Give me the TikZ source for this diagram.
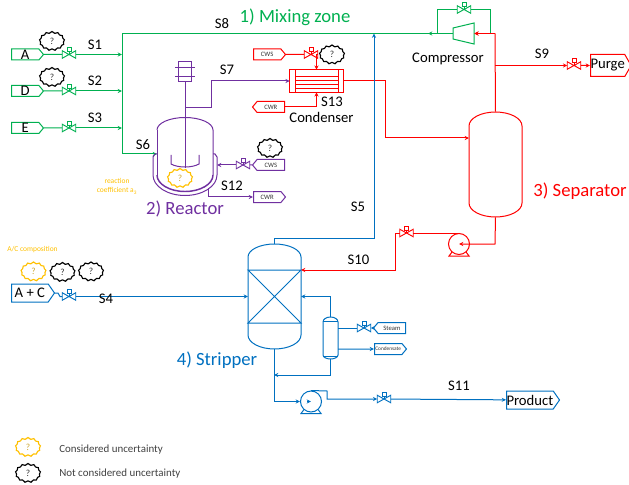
\documentclass[tikz,border=0pt]{standalone}
\usepackage{fontspec}
\setmainfont{Carlito}
\usetikzlibrary{shapes.symbols,arrows.meta,calc}
\def\px{.75pt}
\definecolor{cgreen}{HTML}{00B050}
\definecolor{cpurple}{HTML}{7030A0}
\definecolor{cred}{HTML}{FF0000}
\definecolor{cblue}{HTML}{0070C0}
\definecolor{cyel}{HTML}{FFC000}
\tikzset{
  lbl/.style={font=\fontsize{11pt}{12pt}\selectfont,text=black,inner sep=0pt},
  zone/.style={font=\fontsize{14pt}{15pt}\selectfont,inner sep=0pt},
  tiny label/.style={font=\fontsize{5.6pt}{6.8pt}\selectfont,text=cyel,inner sep=0pt,align=center},
  legendtxt/.style={font=\fontsize{8.2pt}{9pt}\selectfont,text=black!75,inner sep=0pt,anchor=west},
  puff/.style={cloud,cloud puffs=13,cloud puff arc=135,cloud ignores aspect,draw=#1,line width=.85pt,inner sep=0pt,
    minimum width=25*\px,minimum height=19*\px,font=\fontsize{7pt}{8pt}\selectfont,text=#1!60!gray},
  puff/.default=black,
  tag/.style={signal,signal from=nowhere,signal pointer angle=100,draw=#1,line width=.75pt,inner sep=0pt,
    minimum height=11*\px,minimum width=32*\px,text=black!80,font=\fontsize{5pt}{5.4pt}\selectfont},
  tagR/.style={tag=#1,signal to=east,anchor=west},
  tagL/.style={tag=#1,signal to=west,anchor=east},
  bigtag/.style={font=\fontsize{11pt}{12pt}\selectfont,text=black},
  flow/.style={line width=.75pt,-{Stealth[length=3.2pt,width=3pt]}},
  plain/.style={line width=.75pt},
  valve/.style={inner sep=0pt,minimum width=13*\px,minimum height=7*\px},
  vessel/.style={inner sep=0pt},
  pumpc/.style={circle,draw=#1,line width=.75pt,inner sep=0pt,minimum size=21*\px},
}
% name, x, y, colour
\newcommand{\valvesym}[4]{%
  \node[valve] (#1) at (#2,#3) {};
  \draw[#4,line width=.7pt] (#1.north west) -- (#1.south east) -- (#1.north east) -- (#1.south west) -- cycle;
  \draw[#4,line width=.7pt] (#1.center) -- ++(0,-3) ++(-2,0) rectangle ++(4,-4);
}
% name, x, y, colour
\newcommand{\pumpsym}[4]{%
  \node[pumpc=#4] (#1) at (#2,#3) {};
  \draw[#4,line width=.75pt] ($(#1.center)+(-7,8)$) -- ($(#1.center)+(-10,12)$) -- ($(#1.center)+(10,12)$) -- ($(#1.center)+(7,8)$);
}
\begin{document}
\begin{tikzpicture}[x=.75pt,y=-.75pt]
\useasboundingbox (0,0) rectangle (629,485);

% ---------- red section
\node[tagR=cred] (cwsr) at (253,54.5) {CWS};
\node[tagL=cred] (cwrr) at (285,107) {CWR};
\valvesym{vcws}{311}{54.5}{cred}
\node[vessel,minimum width=53*\px,minimum height=22*\px] (cond) at (316.5,81) {};
\draw[cred,line width=.75pt] (cond.north west) rectangle (cond.south east);
\draw[cred,line width=.75pt] (295,70) -- (295,92) (338,70) -- (338,92);
\draw[cred,line width=.5pt] (295,76) -- (338,76) (295,80) -- (338,80) (295,84) -- (338,84) (295,88) -- (338,88);
\draw[cred,plain] (cwsr) -- (vcws);
\draw[cred,flow] (vcws.east) -| (cond.north);
\draw[cred,flow] (cwrr.east) -| (cond.south);
\node[vessel,minimum width=53*\px,minimum height=105*\px] (sep) at (495.5,164.5) {};
\draw[cred,line width=.75pt] (469,126) arc[start angle=180,end angle=0,x radius=26.5*\px,y radius=14*\px] -- (522,203) arc[start angle=0,end angle=-180,x radius=26.5*\px,y radius=14*\px] -- cycle;
\coordinate (c1) at (385,81);
\coordinate (c2) at (469,138);
\draw[cred,flow] (cond.east) -- (c1) |- (c2);
\coordinate (top) at (495,33.5);
\coordinate (s9j) at (495,65.5);
\node[tagR=cred,bigtag,minimum height=22*\px,minimum width=39*\px,signal pointer angle=120] (purge) at (590,65.5) {Purge};
\valvesym{v9}{574}{65.5}{cred}
\draw[cred,plain] (sep.north) -- (top);
\draw[cred,flow] (s9j) -- (v9);
\draw[cred,flow] (v9) -- (purge);
\pumpsym{p1}{459}{244}{cred}
\coordinate (c3) at (495,244);
\draw[cred,flow] (sep.south) -- (c3) -- (p1.center);
\valvesym{v10}{406.5}{233}{cred}
\draw[cred,plain] (p1.north) -- (v10);

% ---------- green section
\node[tagR=cgreen,bigtag] (A) at (11,54.5) {A};
\node[tagR=cgreen,bigtag] (D) at (11,91) {D};
\node[tagR=cgreen,bigtag] (E) at (11,128) {E};
\valvesym{va}{69}{54.5}{cgreen}
\valvesym{vd}{69}{91}{cgreen}
\valvesym{ve}{69}{128}{cgreen}
\coordinate (j1) at (122,54.5);
\coordinate (j2) at (122,91);
\coordinate (j3) at (122,128);
\coordinate (s8c) at (122,33.5);
\coordinate (s6c) at (122,154);
\coordinate (s6e) at (157,154);
\draw[cgreen,plain] (A) -- (va);
\draw[cgreen,plain] (D) -- (vd);
\draw[cgreen,plain] (E) -- (ve);
\draw[cgreen,flow] (va) -- (j1);
\draw[cgreen,flow] (vd) -- (j2);
\draw[cgreen,flow] (ve) -- (j3);
\draw[cgreen,flow] (s8c) |- (s6e);
\node[vessel,minimum width=21*\px,minimum height=21*\px] (comp) at (463.5,33.5) {};
\draw[cgreen,line width=.75pt] (453,28) -- (474,23) -- (474,44) -- (453,39) -- cycle;
\coordinate (bp1) at (437,33.5);
\coordinate (bp2) at (490,33.5);
\valvesym{vb}{464}{9.5}{cgreen}
\draw[cgreen,plain] (comp.west) -- (s8c);
\draw[cgreen,flow] (comp.west) -- (428,33.5);
\draw[cgreen,plain] (bp1) |- (vb);
\draw[cgreen,plain] (vb) -| (bp2);
\draw[cred,flow] (bp2) -- (comp.east);
\draw[cred,flow] (top) -- (comp.east);

% ---------- purple section
\node[vessel,minimum width=12*\px,minimum height=19*\px] (motor) at (185,71.5) {};
\draw[cpurple,line width=.75pt] (motor.north west) rectangle (motor.south east);
\draw[cpurple,line width=.75pt] (175,68) -- (195,68) (175,77) -- (195,77);
\node[vessel,minimum width=56*\px,minimum height=75*\px] (reac) at (185,154.5) {};
\draw[cpurple,line width=.75pt] (157,130) arc[start angle=180,end angle=0,x radius=28*\px,y radius=12.5*\px] -- (213,175);
\draw[cpurple,line width=.75pt] (157,130) -- (157,175);
\draw[cpurple,line width=1.1pt] (157,175) arc[start angle=180,end angle=360,x radius=28*\px,y radius=16.5*\px];
\draw[cpurple,line width=.75pt] (157,154) -- (155,154) -- (153,157) -- (153,175) arc[start angle=180,end angle=360,x radius=32*\px,y radius=20.5*\px] -- (217,157) -- (215,154) -- (213,154);
\draw[cpurple,line width=.75pt] (171,155) -- (171,164) .. controls (178,168) and (192,168) .. (199,164) -- (199,155);
\coordinate (shaft) at (185,168);
\coordinate (s7c) at (185,108);
\coordinate (s7d) at (211,108);
\draw[cpurple,plain] (motor.south) -- (shaft);
\draw[cpurple,flow] (s7c) -- (s7d) |- (cond.west);
\node[tagL=cpurple] (cwsp) at (285,165) {CWS};
\valvesym{vcp}{243}{165}{cpurple}
\coordinate (jin) at (217,165);
\draw[cpurple,plain] (cwsp) -- (vcp);
\draw[cpurple,flow] (vcp) -- (jin);
\node[tagR=cpurple] (cwrp) at (253,197) {CWR};
\coordinate (jout) at (208,188);
\draw[cpurple,flow] (jout) |- (cwrp);

% ---------- stripper
\node[vessel,minimum width=53*\px,minimum height=105*\px] (strip) at (274.5,296.5) {};
\draw[cblue,line width=.75pt] (248,257) arc[start angle=180,end angle=0,x radius=26.5*\px,y radius=13*\px] -- (301,335) arc[start angle=0,end angle=-180,x radius=26.5*\px,y radius=14*\px] -- cycle;
\draw[cblue,line width=.75pt] (248,270) -- (301,270) -- (248,323) -- (301,323) -- cycle;
\coordinate (s5a) at (374,238);
\coordinate (s5b) at (374,33.5);
\draw[cblue,flow] (strip.north) |- (s5a) -- (s5b);
\coordinate (rj) at (301,270);
\draw[cred,flow] (v10) -| (395,270) -- (rj);
\node[tagR=cblue,bigtag,minimum width=43*\px,minimum height=18*\px,signal pointer angle=110] (ac) at (11,293) {A + C};
\valvesym{v4}{69}{296.5}{cblue}
\draw[cblue,plain] (ac.east) -- (58,293) -- (60,296.5) -- (v4);
\coordinate (feed) at (248,296.5);
\draw[cblue,flow] (v4) -- (feed);
\node[vessel,minimum width=15*\px,minimum height=42*\px] (reb) at (330.5,338) {};
\draw[cblue,line width=.75pt] (323,322) arc[start angle=180,end angle=0,x radius=7.5*\px,y radius=5*\px] -- (338,355) arc[start angle=0,end angle=-180,x radius=7.5*\px,y radius=4*\px] -- cycle;
\draw[cblue,line width=.75pt] (323,321) -- (338,321) (323,356) -- (338,356);
\coordinate (rt) at (301,296.5);
\coordinate (rb) at (274,375);
\draw[cblue,flow] (reb.north) |- (rt);
\draw[cblue,flow] (reb.south) |- (rb);
\node[tagL=cblue] (steam) at (406,328) {Steam};
\valvesym{vs}{364}{328}{cblue}
\draw[cblue,flow] (steam) -- (vs);
\draw[cblue,plain] (vs) -- (338,328);
\node[tagR=cblue,font=\fontsize{4pt}{4.4pt}\selectfont] (cond2) at (374,349) {Condensate};
\coordinate (rbo) at (338,349);
\draw[cblue,flow] (rbo) -- (cond2);
\pumpsym{p2}{311}{401.5}{cblue}
\draw[cblue,flow] (strip.south) |- (p2.west);
\draw[cblue,flow] (p2.center) ++(-4,0) -- (p2.center);
\valvesym{v11}{384}{399}{cblue}
\coordinate (d1) at (327,391);
\draw[cblue,flow] (p2.north) -- (d1) |- (v11);
\node[tagR=cblue,bigtag,minimum width=53*\px,minimum height=18*\px,signal pointer angle=110] (prod) at (506,400) {Product};
\draw[cblue,flow] (v11) -- (prod);

% ---------- uncertainty clouds
\node[puff] (q1) at (52,41) {?};
\node[puff] (q2) at (52,77) {?};
\node[puff] (q3) at (270,148) {?};
\node[puff] (q4) at (332,54.5) {?};
\node[puff=cyel] (q5) at (180,178) {?};
\node[puff=cyel] (q6) at (33.5,271.5) {?};
\node[puff] (q7) at (62.5,272) {?};
\node[puff] (q8) at (91,271.5) {?};
\node[puff=cyel] (q9) at (28,447) {?};
\node[puff] (q10) at (28,473) {?};

% ---------- labels
\node[lbl] (l1) at (95,44.5) {S1};
\node[lbl] (l2) at (95,81) {S2};
\node[lbl] (l3) at (95,117.5) {S3};
\node[lbl] (l4) at (106,299) {S4};
\node[lbl] (l5) at (358,207) {S5};
\node[lbl] (l6) at (143,145) {S6};
\node[lbl] (l7) at (227,70) {S7};
\node[lbl] (l8) at (222,23.5) {S8};
\node[lbl] (l9) at (542,54) {S9};
\node[lbl] (l10) at (358.5,260) {S10};
\node[lbl] (l11) at (459,386) {S11};
\node[lbl] (l12) at (232,186) {S12};
\node[lbl] (l13) at (332,102) {S13};
\node[lbl] (lcomp) at (448,59) {Compressor};
\node[lbl] (lcond) at (321.5,117) {Condenser};
\node[zone,text=cgreen] (z1) at (295,17) {1) Mixing zone};
\node[zone,text=cpurple] (z2) at (185,209) {2) Reactor};
\node[zone,text=cred] (z3) at (580,191) {3) Separator};
\node[zone,text=cblue] (z4) at (217,360) {4) Stripper};
\node[tiny label] (t1) at (117,186.5) {reaction\\coefficient a\textsubscript{3}};
\node[tiny label,anchor=west] (t2) at (7,249.5) {A/C composition};
\node[legendtxt] (t3) at (59,449.5) {Considered uncertainty};
\node[legendtxt] (t4) at (59,473.5) {Not considered uncertainty};
\end{tikzpicture}
\end{document}
